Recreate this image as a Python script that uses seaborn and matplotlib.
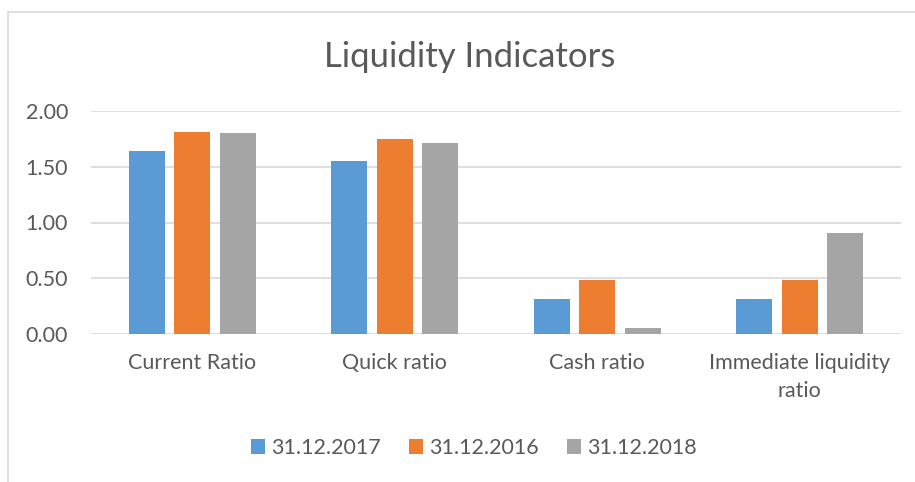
import seaborn as sns
import matplotlib.pyplot as plt
import pandas as pd
from matplotlib.lines import Line2D

# dados do gráfico
categorias = ["Current Ratio", "Quick ratio", "Cash ratio", "Immediate liquidity\nratio"]
series = ["31.12.2017", "31.12.2016", "31.12.2018"]
v_2017 = [1.64, 1.55, 0.31, 0.31]
v_2016 = [1.81, 1.75, 0.48, 0.48]
v_2018 = [1.80, 1.71, 0.05, 0.91]
cores = ["#5B9BD5", "#ED7D31", "#A5A5A5"]
y_ticks = [0.0, 0.5, 1.0, 1.5, 2.0]

dados = pd.DataFrame({
    "categoria": categorias * 3,
    "serie": [s for s in series for _ in categorias],
    "valor": v_2017 + v_2016 + v_2018,
})

sns.set_theme(style="white")
plt.rcParams["font.family"] = ["Lato", "DejaVu Sans"]
texto = "#595959"
grade = "#D9D9D9"

fig = plt.figure(figsize=(9.15, 4.82), dpi=100)
ax = fig.add_axes([91 / 915, 1 - 334 / 482, 810 / 915, 223 / 482])

sns.barplot(data=dados, x="categoria", y="valor", hue="serie", hue_order=series,
            order=categorias, palette=cores, width=0.674, gap=0.21, saturation=1,
            linewidth=0, ax=ax, zorder=3)

ax.set_ylim(0, 2)
ax.set_yticks(y_ticks)
ax.set_yticklabels([f"{v:.2f}" for v in y_ticks])
ax.yaxis.grid(True, color=grade, linewidth=1.2, zorder=0)
ax.set_axisbelow(True)
for s in ax.spines.values():
    s.set_visible(False)
ax.tick_params(axis="both", length=0, labelsize=15.5, colors=texto)
ax.tick_params(axis="y", pad=16.5)
ax.tick_params(axis="x", pad=14)
for t in ax.get_xticklabels():
    t.set_linespacing(1.45)
ax.set_xlabel("")
ax.set_ylabel("")

# legenda embaixo
handles, labels = ax.get_legend_handles_labels()
ax.get_legend().remove()
fig.legend(handles, labels, loc="center", bbox_to_anchor=(474 / 915, 1 - 448 / 482),
           ncol=3, frameon=False, fontsize=15.5, labelcolor=texto,
           handlelength=0.65, handleheight=0.65, handletextpad=0.3, columnspacing=1.3)

fig.text(470 / 915, 1 - 57 / 482, "Liquidity Indicators", ha="center", va="center",
         fontsize=25, color=texto)

# moldura da área do gráfico
fig.add_artist(Line2D([8 / 915, 8 / 915], [0, 1 - 12 / 482], color=grade, lw=1.2))
fig.add_artist(Line2D([8 / 915, 1], [1 - 12 / 482, 1 - 12 / 482], color=grade, lw=1.2))

fig.savefig("out.png", dpi=100)
